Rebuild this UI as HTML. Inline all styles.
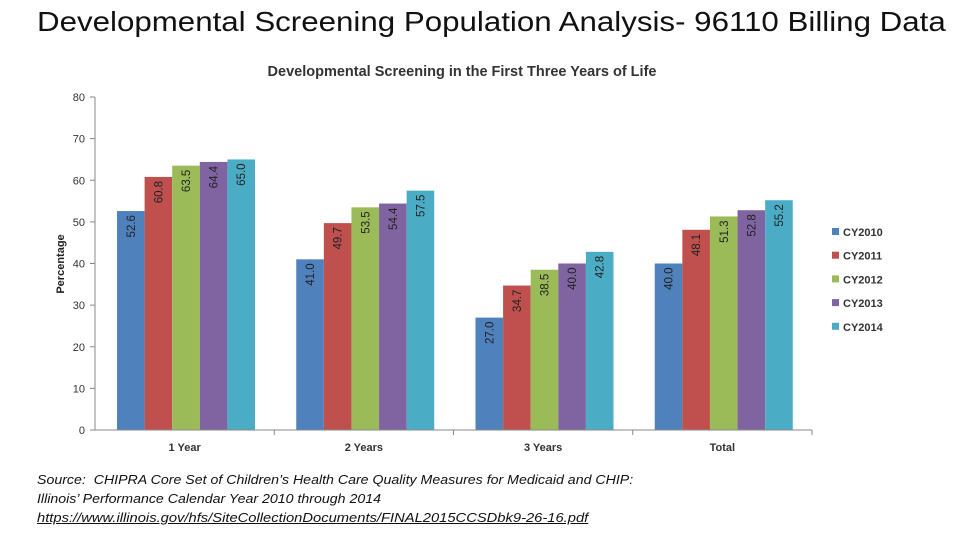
<!DOCTYPE html>
<html><head><meta charset="utf-8"><style>
body{margin:0;width:960px;height:540px;background:#fff;overflow:hidden;font-family:"Liberation Sans",sans-serif;position:relative}
#title{position:absolute;left:37px;top:6px;font-size:28px;color:#111;white-space:nowrap;transform:scaleX(1.117);transform-origin:0 0}
#src{position:absolute;left:37px;top:470px;font-size:13px;font-style:italic;line-height:19px;color:#111;white-space:nowrap;transform:scaleX(1.09);transform-origin:0 0}
#src a{color:#111}
#src .l{display:inline-block;transform:scaleX(1.04);transform-origin:0 0}
</style></head><body>
<div id="title">Developmental Screening Population Analysis- 96110 Billing Data</div>
<svg id="chart" width="960" height="540" style="position:absolute;left:0;top:0"></svg>
<div id="src">Source: &nbsp;CHIPRA Core Set of Children’s Health Care Quality Measures for Medicaid and CHIP:<br>Illinois’ Performance Calendar Year 2010 through 2014<br><span class="l"><a href="#">https://www.illinois.gov/hfs/SiteCollectionDocuments/FINAL2015CCSDbk9-26-16.pdf</a></span></div>
<script>
const categories=["1 Year","2 Years","3 Years","Total"];
const seriesNames=["CY2010","CY2011","CY2012","CY2013","CY2014"];
const colors=["#4f81bd","#c0504d","#9bbb59","#8064a2","#4bacc6"];
const s2010=[52.6,41.0,27.0,40.0];
const s2011=[60.8,49.7,34.7,48.1];
const s2012=[63.5,53.5,38.5,51.3];
const s2013=[64.4,54.4,40.0,52.8];
const s2014=[65.0,57.5,42.8,55.2];
const yTicks=[0,10,20,30,40,50,60,70,80];
const series=[s2010,s2011,s2012,s2013,s2014];
const svg=document.getElementById('chart');
const NS='http://www.w3.org/2000/svg';
const x0=95,x1=812,yB=430,yT=97,yMax=80;
const y=v=>yB-(v/yMax)*(yB-yT);
const gw=(x1-x0)/categories.length, bw=27.6, off=22;
function mk(t,a,txt){const e=document.createElementNS(NS,t);for(const k in a)e.setAttribute(k,a[k]);if(txt!==undefined)e.textContent=txt;svg.appendChild(e);return e;}
const ct=mk('text',{x:462,y:76,'text-anchor':'middle','font-size':14.5,'font-weight':'bold',fill:'#333'},'Developmental Screening in the First Three Years of Life');


const yt=mk('text',{x:0,y:0,transform:'translate(64,264) rotate(-90)','text-anchor':'middle','font-size':11,'font-weight':'bold',fill:'#222'},'Percentage');


const ya=mk('line',{x1:x0,x2:x0,y1:yT,y2:yB,stroke:'#888'});


yTicks.forEach(t=>{
  const tk=mk('line',{x1:x0-5,x2:x0,y1:y(t),y2:y(t),stroke:'#888'});
  
  
  const l=mk('text',{x:x0-10,y:y(t)+4,'text-anchor':'end','font-size':11,fill:'#333'},t);
  
  
});
categories.forEach((c,i)=>{
  const gx=x0+i*gw;
  series.forEach((s,j)=>{
    const bx=gx+off+j*bw, by=y(s[i]);
    const r=mk('rect',{x:bx,y:by,width:bw,height:yB-by,fill:colors[j]});
    
    
    const cx=bx+bw/2+4, cy=by+4;
    const t=mk('text',{x:0,y:0,transform:`translate(${cx},${cy}) rotate(-90)`,'text-anchor':'end','font-size':11.5,fill:'#222'},s[i].toFixed(1));
    
    
  });
  const xl=mk('text',{x:gx+gw/2,y:451,'text-anchor':'middle','font-size':11,'font-weight':'bold',fill:'#333'},c);
  
  
  const tk=mk('line',{x1:gx+gw,x2:gx+gw,y1:yB,y2:yB+5,stroke:'#888'});
  
  
});
const xa=mk('line',{x1:x0,x2:x1,y1:yB,y2:yB,stroke:'#888'});


seriesNames.forEach((n,j)=>{
  const ly=232+j*23.7;
  const r=mk('rect',{x:832,y:ly-4,width:7,height:7,fill:colors[j]});
  
  
  const t=mk('text',{x:843,y:ly+4,'font-size':11,'font-weight':'bold',fill:'#333'},n);
  
  
});
</script>
</body></html>
